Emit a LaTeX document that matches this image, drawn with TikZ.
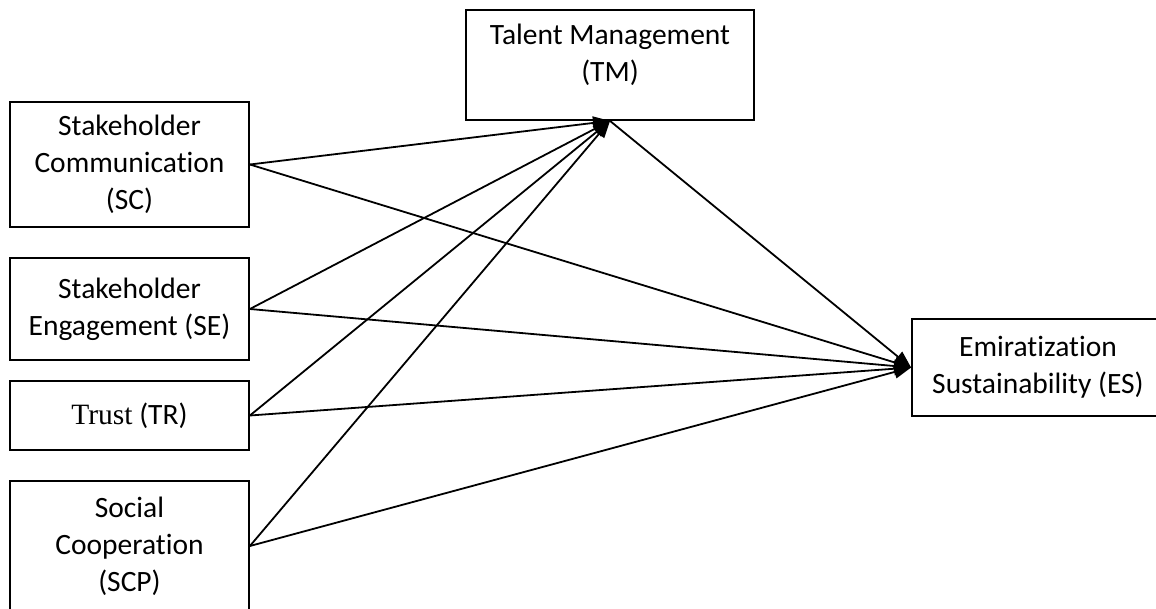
\documentclass[tikz,border=0pt]{standalone}
\usepackage{fontspec}
\setmainfont[Ligatures=NoCommon]{Carlito}
\newfontfamily\trustfont{Liberation Serif}
\usetikzlibrary{arrows.meta}

\begin{document}
\begin{tikzpicture}[x=1pt, y=-1pt,
    box/.style={draw, line width=1.8pt, align=center, inner sep=0pt, minimum width=239pt,
        font=\fontsize{29.5}{37}\selectfont},
    link/.style={line width=1.8pt, -{Triangle[length=17pt, width=13pt]}}]
\useasboundingbox (0,0) rectangle (1156,608);
\clip (0,0) rectangle (1156,608);
\node[box, minimum height=125pt] (sc) at (129.5,164.5) {Stakeholder\\Communication\\(SC)};
\node[box, minimum height=102pt] (se) at (129.5,309) {Stakeholder\\Engagement (SE)};
\node[box, minimum height=69pt] (tr) at (129.5,415.5) {{\trustfont Trust} (TR)};
\node[box, minimum height=130pt] (scp) at (129.5,546) {Social\\Cooperation\\(SCP)};
\node[box, minimum width=288pt, minimum height=110pt] (tm) at (610,65) {Talent Management\\(TM)\\[-24pt]\strut};
\node[box, minimum width=252pt, minimum height=97pt] (es) at (1038,367.5) {Emiratization\\Sustainability (ES)};
\draw[link] (sc.east) -- (tm.south);
\draw[link] (se.east) -- (tm.south);
\draw[link] (tr.east) -- (tm.south);
\draw[link] (scp.east) -- (tm.south);
\draw[link] (sc.east) -- (es.west);
\draw[link] (se.east) -- (es.west);
\draw[link] (tr.east) -- (es.west);
\draw[link] (scp.east) -- (es.west);
\draw[link] (tm.south) -- (es.west);
\end{tikzpicture}
\end{document}
